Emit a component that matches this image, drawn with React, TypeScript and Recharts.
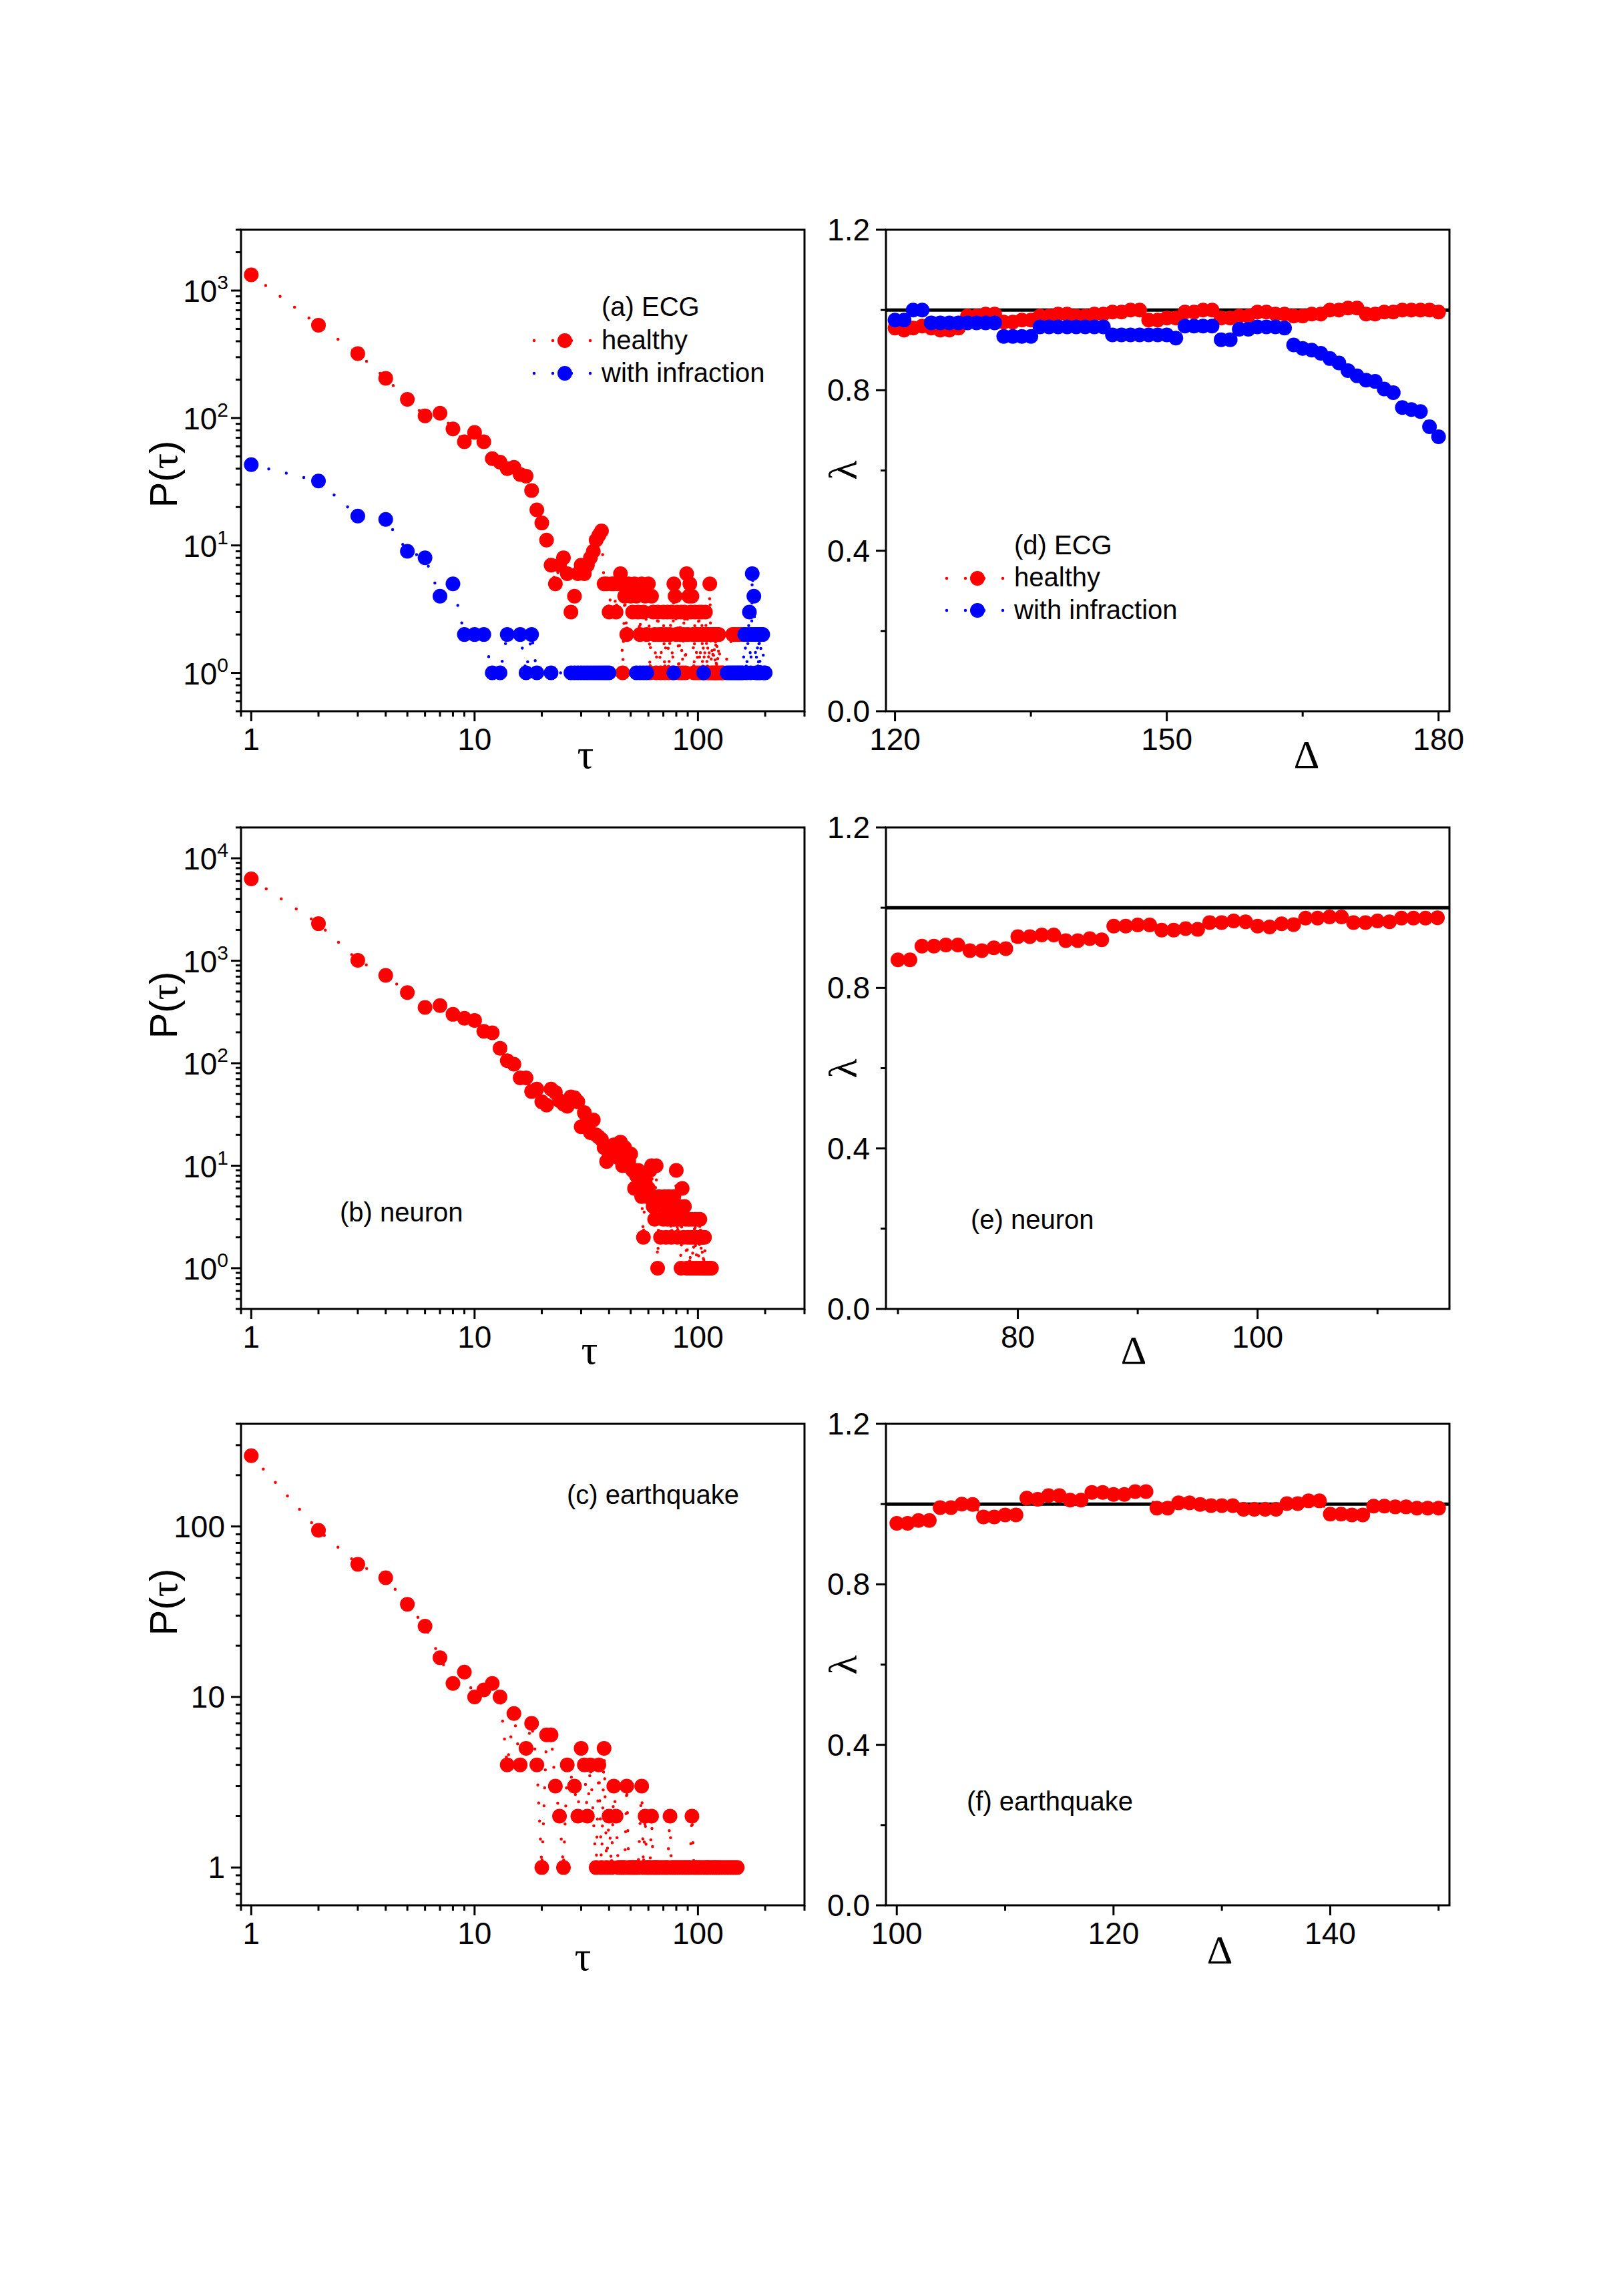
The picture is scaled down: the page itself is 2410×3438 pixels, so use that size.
import React from 'react';
import { LineChart, Line, XAxis, YAxis, ReferenceArea, ReferenceLine } from 'recharts';

const RED = '#ff0000';
const BLUE = '#0000ff';
const SANS = '"Liberation Sans", Arial, sans-serif';
const SERIF = '"Liberation Serif", "Times New Roman", serif';

// waiting-time distributions P(tau), as [tau, count]
const ecgHealthy: [number, number][] = [
  [1, 1330], [2, 535], [3, 320], [4, 205], [5, 140], [6, 104], [7, 109], [8, 82], [9, 65], [10, 77],
  [11, 65], [12, 48], [13, 45], [14, 40], [15, 41], [16, 36], [17, 35], [18, 27], [19, 19], [20, 15],
  [21, 11], [22, 7], [23, 5], [24, 7], [25, 8], [26, 6], [27, 3], [28, 4], [29, 6], [30, 7],
  [31, 6], [32, 7], [33, 8], [34, 9], [35, 11], [36, 12], [37, 13], [38, 5], [39, 5], [40, 3],
  [41, 5], [42, 5], [43, 3], [44, 5], [45, 6], [46, 1], [47, 4], [48, 2], [49, 5], [50, 4],
  [51, 3], [52, 5], [53, 4], [54, 3], [55, 2], [56, 5], [57, 3], [58, 4], [59, 2], [60, 5],
  [61, 1], [62, 4], [63, 3], [64, 2], [65, 1], [66, 3], [67, 2], [68, 1], [69, 2], [70, 3],
  [71, 1], [72, 2], [73, 3], [74, 1], [75, 2], [76, 3], [77, 1], [78, 5], [79, 4], [80, 2],
  [81, 3], [82, 1], [83, 2], [84, 3], [85, 1], [86, 2], [87, 3], [88, 1], [89, 6], [90, 2],
  [91, 4], [92, 5], [93, 3], [94, 4], [95, 2], [96, 1], [97, 3], [98, 2], [99, 1], [100, 2],
  [101, 3], [102, 1], [103, 2], [104, 3], [105, 1], [106, 2], [107, 1], [108, 3], [109, 2], [110, 1],
  [111, 2], [112, 1], [113, 5], [114, 2], [115, 1], [116, 2], [117, 1], [118, 2], [119, 1], [120, 2],
  [121, 1], [122, 2], [123, 1], [124, 2], [126, 1], [128, 1], [130, 1], [143, 2], [146, 2], [150, 2],
  [155, 2], [158, 2],
];

const ecgInfraction: [number, number][] = [
  [1, 43], [2, 32], [3, 17], [4, 16], [5, 9], [6, 8], [7, 4], [8, 5], [9, 2], [10, 2],
  [11, 2], [12, 1], [13, 1], [14, 2], [16, 2], [17, 1], [18, 2], [19, 1], [22, 1], [27, 1],
  [28, 1], [29, 1], [30, 1], [31, 1], [32, 1], [33, 1], [34, 1], [35, 1], [36, 1], [37, 1],
  [38, 1], [39, 1], [40, 1], [53, 1], [55, 1], [57, 1], [59, 1], [78, 1], [106, 1], [135, 1],
  [138, 1], [141, 1], [144, 1], [147, 1], [150, 1], [153, 1], [156, 1], [159, 1], [162, 2], [165, 1],
  [168, 2], [170, 3], [172, 1], [174, 2], [175, 6], [178, 4], [180, 2], [182, 1], [184, 2], [186, 1],
  [188, 2], [190, 1], [192, 2], [195, 2], [197, 1], [200, 1],
];

const neuron: [number, number][] = [
  [1, 6300], [2, 2300], [3, 1010], [4, 720], [5, 490], [6, 350], [7, 365], [8, 300], [9, 275], [10, 262],
  [11, 205], [12, 198], [13, 140], [14, 106], [15, 98], [16, 72], [17, 72], [18, 53], [19, 56], [20, 42],
  [21, 39], [22, 56], [23, 52], [24, 43], [25, 40], [26, 38], [27, 47], [28, 46], [29, 42], [30, 24],
  [31, 33], [32, 28], [33, 21], [34, 28], [35, 20], [36, 19], [37, 18], [38, 15], [39, 11], [40, 12],
  [41, 14], [42, 16], [43, 13], [44, 12], [45, 17], [46, 10], [47, 15], [48, 13], [49, 11], [50, 13],
  [51, 9], [52, 6], [53, 8], [54, 9], [55, 7], [56, 5], [57, 2], [58, 7], [59, 5], [60, 6],
  [61, 9], [62, 10], [63, 4], [64, 3], [65, 10], [66, 1], [67, 5], [68, 2], [69, 4], [70, 3],
  [71, 5], [72, 2], [73, 3], [74, 5], [75, 4], [76, 2], [77, 3], [78, 5], [79, 3], [80, 9],
  [81, 2], [82, 4], [83, 3], [84, 1], [85, 6], [86, 2], [87, 4], [88, 3], [89, 1], [90, 2],
  [91, 3], [92, 1], [93, 2], [94, 3], [95, 1], [96, 2], [97, 3], [98, 1], [99, 2], [100, 3],
  [101, 1], [102, 3], [103, 2], [104, 1], [105, 2], [106, 1], [107, 2], [108, 1], [110, 1], [111, 1],
  [113, 1], [115, 1],
];

const quake: [number, number][] = [
  [1, 260], [2, 95], [3, 60], [4, 50], [5, 35], [6, 26], [7, 17], [8, 12], [9, 14], [10, 10],
  [11, 11], [12, 12], [13, 10], [14, 4], [15, 8], [16, 4], [17, 5], [18, 7], [19, 4], [20, 1],
  [21, 6], [22, 6], [23, 3], [24, 2], [25, 1], [26, 4], [28, 3], [29, 2], [30, 5], [31, 4],
  [32, 2], [33, 4], [35, 1], [36, 4], [37, 1], [38, 5], [39, 1], [40, 2], [41, 1], [42, 3],
  [43, 2], [44, 1], [45, 1], [46, 1], [47, 1], [48, 3], [49, 1], [50, 1], [51, 1], [52, 1],
  [53, 1], [54, 1], [56, 3], [57, 1], [58, 2], [59, 1], [60, 1], [61, 1], [62, 2], [63, 1],
  [64, 1], [65, 1], [66, 1], [68, 1], [70, 1], [72, 1], [73, 1], [75, 2], [76, 1], [78, 1],
  [80, 1], [82, 1], [84, 1], [86, 1], [88, 1], [90, 1], [92, 1], [94, 2], [96, 1], [98, 1],
  [100, 1], [102, 1], [105, 1], [108, 1], [110, 1], [112, 1], [115, 1], [118, 1], [120, 1], [123, 1],
  [126, 1], [130, 1], [134, 1], [138, 1], [142, 1], [146, 1], [150, 1],
];

// lambda against Delta, one value per integer Delta starting at the given value
const ecgDeltaStart = 120;
const ecgHealthyLambda = [
  0.955, 0.95, 0.955, 0.96, 0.955, 0.95, 0.95, 0.955,
  0.985, 0.985, 0.99, 0.99,
  0.97, 0.97, 0.975, 0.975,
  0.985, 0.985, 0.99, 0.99, 0.985, 0.985, 0.99, 0.99,
  0.995, 0.995, 1.0, 1.0,
  0.975, 0.975, 0.98, 0.98,
  0.995, 0.995, 1.0, 1.0,
  0.98, 0.98, 0.985, 0.985,
  0.995, 0.995, 0.99, 0.99,
  0.985, 0.985, 0.99, 0.99,
  1.0, 1.0, 1.005, 1.005,
  0.99, 0.99, 0.995, 0.995,
  1.0, 1.0, 1.0, 1.0, 0.995,
];
const ecgInfractionLambda = [
  0.975, 0.975, 1.0, 1.0,
  0.968, 0.968, 0.968, 0.968, 0.968, 0.968, 0.968, 0.968,
  0.934, 0.934, 0.934, 0.934,
  0.958, 0.958, 0.958, 0.958, 0.958, 0.958, 0.958, 0.958,
  0.938, 0.938, 0.938, 0.938, 0.938, 0.938, 0.938, 0.93,
  0.96, 0.96, 0.96, 0.96,
  0.926, 0.926,
  0.952, 0.952, 0.958, 0.958, 0.958, 0.955,
  0.913, 0.904, 0.9, 0.892, 0.879, 0.868, 0.849, 0.836, 0.825, 0.822, 0.803, 0.794, 0.757, 0.752,
  0.747, 0.709, 0.684,
];

const neuronDeltaStart = 70;
const neuronLambda = [
  0.87, 0.87,
  0.904, 0.904, 0.907, 0.907,
  0.893, 0.893, 0.9, 0.898,
  0.928, 0.928, 0.932, 0.932,
  0.918, 0.918, 0.923, 0.92,
  0.954, 0.954, 0.957, 0.957,
  0.944, 0.944, 0.948, 0.946,
  0.963, 0.963, 0.967, 0.965,
  0.954, 0.952, 0.96, 0.958,
  0.974, 0.974, 0.977, 0.977,
  0.963, 0.963, 0.967, 0.965,
  0.974, 0.974, 0.974, 0.975,
];

const quakeDeltaStart = 100;
const quakeLambda = [
  0.952, 0.952, 0.959, 0.959,
  0.991, 0.991, 1.0, 0.999,
  0.968, 0.968, 0.973, 0.973,
  1.015, 1.012, 1.021, 1.021,
  1.01, 1.01, 1.029, 1.029,
  1.024, 1.024, 1.031, 1.031,
  0.99, 0.99, 1.003, 1.003,
  0.999, 0.996, 0.996, 0.996,
  0.987, 0.987, 0.987, 0.987,
  1.001, 1.001, 1.008, 1.008,
  0.975, 0.975, 0.973, 0.973,
  0.995, 0.995, 0.993, 0.993,
  0.99, 0.99, 0.99,
];

// axis ticks
const tauTicks = [0.9, 1, 2, 3, 4, 5, 6, 7, 8, 9, 10, 20, 30, 40, 50, 60, 70, 80, 90, 100, 200, 300];
const tauMajor = [1, 10, 100];
const ecgPTicks = [0.5, 0.6, 0.7, 0.8, 0.9, 1, 2, 3, 4, 5, 6, 7, 8, 9, 10, 20, 30, 40, 50, 60, 70, 80, 90,
  100, 200, 300, 400, 500, 600, 700, 800, 900, 1000, 2000, 3000];
const ecgPMajor = [1, 10, 100, 1000];
const neuronPTicks = [0.4, 0.5, 0.6, 0.7, 0.8, 0.9, 1, 2, 3, 4, 5, 6, 7, 8, 9, 10, 20, 30, 40, 50, 60, 70, 80, 90,
  100, 200, 300, 400, 500, 600, 700, 800, 900, 1000, 2000, 3000, 4000, 5000, 6000, 7000, 8000, 9000, 10000, 20000];
const neuronPMajor = [1, 10, 100, 1000, 10000];
const quakePTicks = [0.6, 0.7, 0.8, 0.9, 1, 2, 3, 4, 5, 6, 7, 8, 9, 10, 20, 30, 40, 50, 60, 70, 80, 90, 100, 200, 300, 400];
const quakePMajor = [1, 10, 100];
const lambdaTicks = [0, 0.2, 0.4, 0.6, 0.8, 1.0, 1.2];
const lambdaMajor = [0, 0.4, 0.8, 1.2];
const ecgDeltaTicks = [120, 135, 150, 165, 180];
const ecgDeltaMajor = [120, 150, 180];
const neuronDeltaTicks = [70, 80, 90, 100, 110];
const neuronDeltaMajor = [80, 100];
const quakeDeltaTicks = [100, 110, 120, 130, 140, 150];
const quakeDeltaMajor = [100, 120, 140];

// frame geometry
const PW = 844;
const PH = 721;
const ML = 150;
const MT = 60;
const MR = 30;
const MB = 110;

type Pt = { x: number; y: number };
const toPts = (pairs: [number, number][]): Pt[] => pairs.map(([x, y]) => ({ x, y }));
const fromStart = (start: number, ys: number[]): Pt[] => ys.map((y, i) => ({ x: start + i, y }));

const isMajor = (v: number, majors: number[]) => majors.some((m) => Math.abs(m - v) < 1e-9);

const XTick = (props: any) => {
  const { x, y, payload, majors } = props;
  const major = isMajor(payload.value, majors);
  return (
    <g>
      <line x1={x} x2={x} y1={y} y2={y + (major ? 15 : 8)} stroke="#000" strokeWidth={3} />
      {major && (
        <text x={x} y={y + 58} textAnchor="middle" fontFamily={SANS} fontSize={46} fill="#000">
          {String(payload.value)}
        </text>
      )}
    </g>
  );
};

const YTick = (props: any) => {
  const { x, y, payload, majors, kind } = props;
  const v = payload.value;
  const major = isMajor(v, majors);
  let label: React.ReactNode = null;
  if (major) {
    if (kind === 'pow') {
      label = (
        <text x={x - 19} y={y + 17} textAnchor="end" fontFamily={SANS} fontSize={46} fill="#000">
          10<tspan dy={-19} fontSize={30}>{Math.round(Math.log10(v))}</tspan>
        </text>
      );
    } else {
      label = (
        <text x={x - 24} y={y + 16} textAnchor="end" fontFamily={SANS} fontSize={46} fill="#000">
          {kind === 'fixed' ? v.toFixed(1) : String(v)}
        </text>
      );
    }
  }
  return (
    <g>
      <line x1={x} x2={x - (major ? 15 : 8)} y1={y} y2={y} stroke="#000" strokeWidth={3} />
      {label}
    </g>
  );
};

const dotOf = (color: string) => (props: any) => {
  const { cx, cy, index } = props;
  if (cx == null || cy == null) return <g key={`n${index}`} />;
  return <circle key={`d${index}`} cx={cx} cy={cy} r={11} fill={color} />;
};

type Series = { name: string; data: Pt[]; color: string };

type PanelProps = {
  left: number;
  top: number;
  xLog: boolean;
  yLog: boolean;
  xDomain: [number, number];
  yDomain: [number, number];
  xTicks: number[];
  xMajor: number[];
  yTicks: number[];
  yMajor: number[];
  yKind: 'pow' | 'plain' | 'fixed';
  series: Series[];
  unitLine?: boolean;
};

const Panel = (p: PanelProps) => (
  <div style={{ position: 'absolute', left: p.left - ML, top: p.top - MT }}>
    <LineChart width={ML + PW + MR} height={MT + PH + MB} margin={{ top: MT, right: MR, bottom: 0, left: 0 }}>
      <XAxis
        type="number"
        dataKey="x"
        scale={p.xLog ? 'log' : 'linear'}
        domain={p.xDomain}
        allowDataOverflow
        ticks={p.xTicks}
        interval={0}
        height={MB}
        axisLine={false}
        tickLine={false}
        tickSize={0}
        tickMargin={0}
        tick={<XTick majors={p.xMajor} />}
      />
      <YAxis
        type="number"
        dataKey="y"
        scale={p.yLog ? 'log' : 'linear'}
        domain={p.yDomain}
        allowDataOverflow
        ticks={p.yTicks}
        interval={0}
        width={ML}
        axisLine={false}
        tickLine={false}
        tickSize={0}
        tickMargin={0}
        tick={<YTick majors={p.yMajor} kind={p.yKind} />}
      />
      {p.series.map((s) => (
        <Line
          key={s.name}
          name={s.name}
          data={s.data}
          dataKey="y"
          type="linear"
          stroke={s.color}
          strokeWidth={4.5}
          strokeDasharray="0 27"
          strokeLinecap="round"
          dot={dotOf(s.color)}
          activeDot={false}
          isAnimationActive={false}
        />
      ))}
      {p.unitLine && <ReferenceLine y={1} stroke="#000" strokeWidth={5} ifOverflow="visible" />}
      <ReferenceArea
        x1={p.xDomain[0]}
        x2={p.xDomain[1]}
        y1={p.yDomain[0]}
        y2={p.yDomain[1]}
        fill="none"
        stroke="#000"
        strokeWidth={3}
        ifOverflow="visible"
      />
    </LineChart>
  </div>
);

const LegendRow = ({ x, y, color }: { x: number; y: number; color: string }) => (
  <g>
    <line x1={x - 46} x2={x + 40} y1={y} y2={y} stroke={color} strokeWidth={4.5} strokeDasharray="0 28" strokeLinecap="round" />
    <circle cx={x} cy={y} r={11} fill={color} />
  </g>
);

const Annotations = () => (
  <svg width={2410} height={3438} style={{ position: 'absolute', left: 0, top: 0, pointerEvents: 'none' }}>
    {[710, 1505, 2399].map((cy) => (
      <text key={`p${cy}`} transform={`translate(265, ${cy}) rotate(-90)`} textAnchor="middle" fontFamily={SANS} fontSize={58}>
        P(<tspan fontFamily={SERIF}>τ</tspan>)
      </text>
    ))}
    {[704, 1600, 2493].map((cy) => (
      <text key={`l${cy}`} transform={`translate(1283, ${cy}) rotate(-90)`} textAnchor="middle" fontFamily={SERIF} fontSize={60}>
        λ
      </text>
    ))}
    <text x={877} y={1150} textAnchor="middle" fontFamily={SERIF} fontSize={62}>τ</text>
    <text x={883} y={2042} textAnchor="middle" fontFamily={SERIF} fontSize={62}>τ</text>
    <text x={873} y={2950} textAnchor="middle" fontFamily={SERIF} fontSize={62}>τ</text>
    <text x={1957} y={1150} textAnchor="middle" fontFamily={SERIF} fontSize={60}>Δ</text>
    <text x={1698} y={2042} textAnchor="middle" fontFamily={SERIF} fontSize={60}>Δ</text>
    <text x={1827} y={2940} textAnchor="middle" fontFamily={SERIF} fontSize={60}>Δ</text>

    <g fontFamily={SANS} fontSize={40}>
      <text x={901} y={473}>(a) ECG</text>
      <LegendRow x={846} y={510} color={RED} />
      <text x={901} y={523}>healthy</text>
      <LegendRow x={846} y={559} color={BLUE} />
      <text x={901} y={572}>with infraction</text>

      <text x={1519} y={830}>(d) ECG</text>
      <LegendRow x={1464} y={866} color={RED} />
      <text x={1519} y={878}>healthy</text>
      <LegendRow x={1464} y={914} color={BLUE} />
      <text x={1519} y={927}>with infraction</text>

      <text x={509} y={1829}>(b) neuron</text>
      <text x={849} y={2252}>(c) earthquake</text>
      <text x={1454} y={1840}>(e) neuron</text>
      <text x={1448} y={2711}>(f) earthquake</text>
    </g>
  </svg>
);

export default function App() {
  return (
    <div style={{ position: 'absolute', left: 0, top: 0, width: 2410, height: 3438, background: '#fff' }}>
      <Panel
        left={361} top={344} xLog yLog
        xDomain={[0.9, 300]} yDomain={[0.5, 3000]}
        xTicks={tauTicks} xMajor={tauMajor} yTicks={ecgPTicks} yMajor={ecgPMajor} yKind="pow"
        series={[
          { name: 'healthy', data: toPts(ecgHealthy), color: RED },
          { name: 'with infraction', data: toPts(ecgInfraction), color: BLUE },
        ]}
      />
      <Panel
        left={1327} top={344} xLog={false} yLog={false}
        xDomain={[119, 181.2]} yDomain={[0, 1.2]}
        xTicks={ecgDeltaTicks} xMajor={ecgDeltaMajor} yTicks={lambdaTicks} yMajor={lambdaMajor} yKind="fixed"
        series={[
          { name: 'healthy', data: fromStart(ecgDeltaStart, ecgHealthyLambda), color: RED },
          { name: 'with infraction', data: fromStart(ecgDeltaStart, ecgInfractionLambda), color: BLUE },
        ]}
        unitLine
      />
      <Panel
        left={361} top={1239} xLog yLog
        xDomain={[0.9, 300]} yDomain={[0.4, 20000]}
        xTicks={tauTicks} xMajor={tauMajor} yTicks={neuronPTicks} yMajor={neuronPMajor} yKind="pow"
        series={[{ name: 'neuron', data: toPts(neuron), color: RED }]}
      />
      <Panel
        left={1327} top={1239} xLog={false} yLog={false}
        xDomain={[69, 116]} yDomain={[0, 1.2]}
        xTicks={neuronDeltaTicks} xMajor={neuronDeltaMajor} yTicks={lambdaTicks} yMajor={lambdaMajor} yKind="fixed"
        series={[{ name: 'neuron', data: fromStart(neuronDeltaStart, neuronLambda), color: RED }]}
        unitLine
      />
      <Panel
        left={361} top={2132} xLog yLog
        xDomain={[0.9, 300]} yDomain={[0.6, 400]}
        xTicks={tauTicks} xMajor={tauMajor} yTicks={quakePTicks} yMajor={quakePMajor} yKind="plain"
        series={[{ name: 'earthquake', data: toPts(quake), color: RED }]}
      />
      <Panel
        left={1327} top={2132} xLog={false} yLog={false}
        xDomain={[99, 151]} yDomain={[0, 1.2]}
        xTicks={quakeDeltaTicks} xMajor={quakeDeltaMajor} yTicks={lambdaTicks} yMajor={lambdaMajor} yKind="fixed"
        series={[{ name: 'earthquake', data: fromStart(quakeDeltaStart, quakeLambda), color: RED }]}
        unitLine
      />
      <Annotations />
    </div>
  );
}
